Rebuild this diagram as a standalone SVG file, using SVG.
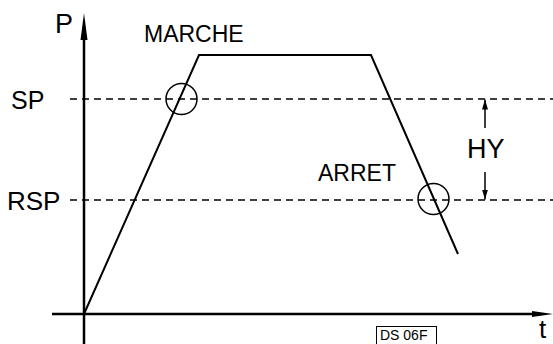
<svg xmlns="http://www.w3.org/2000/svg" width="553" height="344" viewBox="0 0 553 344">
  <style>
    .lbl { font-family: "Liberation Sans", Arial, sans-serif; fill: #000; }
    .axis { stroke: #000; stroke-width: 2.5; fill: none; }
    .curve { stroke: #000; stroke-width: 2; fill: none; stroke-linejoin: miter; }
    .dash { stroke: #000; stroke-width: 1.3; fill: none; stroke-dasharray: 7 5; }
    .ring { stroke: #000; stroke-width: 1.5; fill: none; }
    .dim { stroke: #000; stroke-width: 1.5; fill: none; }
  </style>
  <defs>
    <marker id="dimHead" viewBox="0 0 10 6" refX="10" refY="3" markerWidth="10" markerHeight="6" markerUnits="userSpaceOnUse" orient="auto">
      <path d="M0,0 L10,3 L0,6 Z" fill="#000"/>
    </marker>
  </defs>

  <!-- axes -->
  <g id="axes">
    <line class="axis" x1="84" y1="36" x2="84" y2="344"/>
    <path d="M84,13 L87.5,40 L80.5,40 Z" fill="#000"/>
    <line class="axis" x1="52" y1="314" x2="534" y2="314"/>
    <path d="M553,314 L532,317 L532,311 Z" fill="#000"/>
  </g>

  <!-- set point / reset levels -->
  <g id="levels">
    <line class="dash" x1="70" y1="99" x2="553" y2="99"/>
    <line class="dash" x1="70" y1="200" x2="553" y2="200"/>
  </g>

  <!-- pressure cycle -->
  <g id="cycle">
    <polyline class="curve" points="84,314 199,55 371,55 458,254"/>
  </g>

  <!-- switching points -->
  <g id="switch-on">
    <circle class="ring" cx="181.5" cy="99" r="15.5"/>
  </g>
  <g id="switch-off">
    <circle class="ring" cx="433.5" cy="199" r="15.5"/>
  </g>

  <!-- hysteresis dimension -->
  <g id="connectors">
    <line class="dim" x1="485" y1="128" x2="485" y2="99.5" marker-end="url(#dimHead)"/>
    <line class="dim" x1="485" y1="172" x2="485" y2="199.5" marker-end="url(#dimHead)"/>
  </g>

  <!-- labels -->
  <g id="labels">
    <text class="lbl" x="55" y="33" font-size="27">P</text>
    <text class="lbl" x="144" y="42" font-size="23">MARCHE</text>
    <text class="lbl" x="11" y="109" font-size="25">SP</text>
    <text class="lbl" x="7" y="210" font-size="26">RSP</text>
    <text class="lbl" x="318" y="181" font-size="23">ARRET</text>
    <text class="lbl" x="467" y="158" font-size="27">HY</text>
    <text class="lbl" x="539" y="338" font-size="26">t</text>
  </g>

  <!-- drawing reference tag -->
  <g id="tag">
    <rect x="376.5" y="326.5" width="60" height="18" fill="none" stroke="#000" stroke-width="1"/>
    <text class="lbl" x="380" y="340" font-size="14">DS  06F</text>
  </g>
</svg>
